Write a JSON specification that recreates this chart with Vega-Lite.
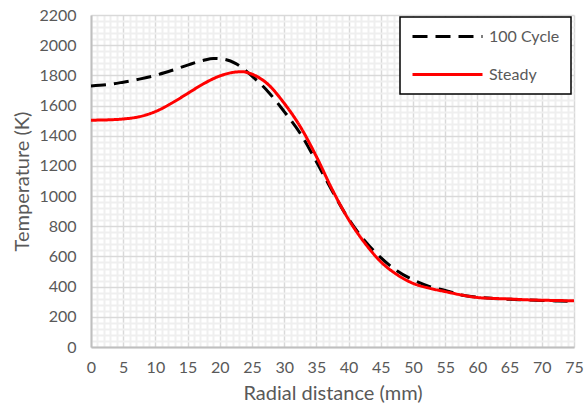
{
  "$schema": "https://vega.github.io/schema/vega-lite/v6.json",
  "width": 483,
  "height": 332,
  "autosize": {"type": "none"},
  "padding": {"left": 91, "top": 15, "right": 13, "bottom": 56},
  "background": "white",
  "config": {"view": {"stroke": null}, "font": "Lato"},
  "data": {
    "values": [
      {"r": 0, "T": 1730, "series": "100 Cycle"},
      {"r": 2.5, "T": 1738, "series": "100 Cycle"},
      {"r": 5, "T": 1755, "series": "100 Cycle"},
      {"r": 7.5, "T": 1775, "series": "100 Cycle"},
      {"r": 10, "T": 1800, "series": "100 Cycle"},
      {"r": 12.5, "T": 1832, "series": "100 Cycle"},
      {"r": 15, "T": 1868, "series": "100 Cycle"},
      {"r": 17.5, "T": 1900, "series": "100 Cycle"},
      {"r": 19, "T": 1912, "series": "100 Cycle"},
      {"r": 20.5, "T": 1908, "series": "100 Cycle"},
      {"r": 22.5, "T": 1878, "series": "100 Cycle"},
      {"r": 25, "T": 1795, "series": "100 Cycle"},
      {"r": 27.5, "T": 1692, "series": "100 Cycle"},
      {"r": 30, "T": 1560, "series": "100 Cycle"},
      {"r": 32.5, "T": 1415, "series": "100 Cycle"},
      {"r": 35, "T": 1228, "series": "100 Cycle"},
      {"r": 37.5, "T": 1030, "series": "100 Cycle"},
      {"r": 40, "T": 848, "series": "100 Cycle"},
      {"r": 42.5, "T": 705, "series": "100 Cycle"},
      {"r": 45, "T": 592, "series": "100 Cycle"},
      {"r": 47.5, "T": 505, "series": "100 Cycle"},
      {"r": 50, "T": 445, "series": "100 Cycle"},
      {"r": 52.5, "T": 402, "series": "100 Cycle"},
      {"r": 55, "T": 375, "series": "100 Cycle"},
      {"r": 57.5, "T": 345, "series": "100 Cycle"},
      {"r": 60, "T": 330, "series": "100 Cycle"},
      {"r": 62.5, "T": 321, "series": "100 Cycle"},
      {"r": 65, "T": 316, "series": "100 Cycle"},
      {"r": 67.5, "T": 312, "series": "100 Cycle"},
      {"r": 70, "T": 308, "series": "100 Cycle"},
      {"r": 72.5, "T": 305, "series": "100 Cycle"},
      {"r": 75, "T": 303, "series": "100 Cycle"},
      {"r": 0, "T": 1503, "series": "Steady"},
      {"r": 2.5, "T": 1505, "series": "Steady"},
      {"r": 5, "T": 1511, "series": "Steady"},
      {"r": 7.5, "T": 1526, "series": "Steady"},
      {"r": 10, "T": 1560, "series": "Steady"},
      {"r": 12.5, "T": 1615, "series": "Steady"},
      {"r": 15, "T": 1680, "series": "Steady"},
      {"r": 17.5, "T": 1745, "series": "Steady"},
      {"r": 20, "T": 1796, "series": "Steady"},
      {"r": 22.5, "T": 1822, "series": "Steady"},
      {"r": 23.5, "T": 1824, "series": "Steady"},
      {"r": 25, "T": 1808, "series": "Steady"},
      {"r": 27.5, "T": 1740, "series": "Steady"},
      {"r": 30, "T": 1615, "series": "Steady"},
      {"r": 32.5, "T": 1460, "series": "Steady"},
      {"r": 35, "T": 1262, "series": "Steady"},
      {"r": 37.5, "T": 1040, "series": "Steady"},
      {"r": 40, "T": 845, "series": "Steady"},
      {"r": 42.5, "T": 690, "series": "Steady"},
      {"r": 45, "T": 565, "series": "Steady"},
      {"r": 47.5, "T": 480, "series": "Steady"},
      {"r": 50, "T": 422, "series": "Steady"},
      {"r": 52.5, "T": 390, "series": "Steady"},
      {"r": 55, "T": 367, "series": "Steady"},
      {"r": 57.5, "T": 345, "series": "Steady"},
      {"r": 60, "T": 328, "series": "Steady"},
      {"r": 62.5, "T": 322, "series": "Steady"},
      {"r": 65, "T": 318, "series": "Steady"},
      {"r": 67.5, "T": 313, "series": "Steady"},
      {"r": 70, "T": 310, "series": "Steady"},
      {"r": 72.5, "T": 308, "series": "Steady"},
      {"r": 75, "T": 306, "series": "Steady"}
    ]
  },
  "mark": {"type": "line", "strokeWidth": 3, "interpolate": "monotone"},
  "encoding": {
    "x": {
      "field": "r",
      "type": "quantitative",
      "scale": {"domain": [0, 75], "nice": false},
      "axis": {
        "title": "Radial distance (mm)",
        "values": [0,1,2,3,4,5,6,7,8,9,10,11,12,13,14,15,16,17,18,19,20,21,22,23,24,25,26,27,28,29,30,31,32,33,34,35,36,37,38,39,40,41,42,43,44,45,46,47,48,49,50,51,52,53,54,55,56,57,58,59,60,61,62,63,64,65,66,67,68,69,70,71,72,73,74,75],
        "labelExpr": "datum.value % 5 === 0 ? datum.label : ''",
        "labelOverlap": false,
        "labelFlush": false,
        "ticks": false,
        "labelPadding": 12,
        "labelFontSize": 16,
        "labelColor": "#595959",
        "titleFontSize": 20,
        "titleFontWeight": "normal",
        "titleColor": "#595959",
        "titlePadding": 8,
        "domainColor": "#bfbfbf",
        "domainWidth": 2,
        "gridColor": {"condition": {"test": "datum.value % 5 === 0", "value": "#d9d9d9"}, "value": "#efefef"},
        "gridWidth": {"condition": {"test": "datum.value % 5 === 0", "value": 1.5}, "value": 2}
      }
    },
    "y": {
      "field": "T",
      "type": "quantitative",
      "scale": {"domain": [0, 2200], "nice": false},
      "axis": {
        "title": "Temperature (K)",
        "values": [0,40,80,120,160,200,240,280,320,360,400,440,480,520,560,600,640,680,720,760,800,840,880,920,960,1000,1040,1080,1120,1160,1200,1240,1280,1320,1360,1400,1440,1480,1520,1560,1600,1640,1680,1720,1760,1800,1840,1880,1920,1960,2000,2040,2080,2120,2160,2200],
        "labelExpr": "datum.value % 200 === 0 ? datum.label : ''",
        "format": "d",
        "labelOverlap": false,
        "labelFlush": false,
        "ticks": false,
        "labelPadding": 15,
        "labelFontSize": 16,
        "labelColor": "#595959",
        "titleFontSize": 20,
        "titleFontWeight": "normal",
        "titleColor": "#595959",
        "titlePadding": 6,
        "domainColor": "#bfbfbf",
        "domainWidth": 2,
        "gridColor": {"condition": {"test": "datum.value % 200 === 0", "value": "#d9d9d9"}, "value": "#efefef"},
        "gridWidth": {"condition": {"test": "datum.value % 200 === 0", "value": 1.5}, "value": 2}
      }
    },
    "color": {
      "field": "series",
      "type": "nominal",
      "scale": {"domain": ["100 Cycle", "Steady"], "range": ["#000000", "#ff0000"]},
      "legend": {
        "title": null,
        "orient": "none",
        "legendX": 309,
        "legendY": 2,
        "fillColor": "white",
        "strokeColor": "black",
        "padding": 11,
        "rowPadding": 21,
        "symbolType": "M-1,0H9",
        "symbolSize": 196,
        "symbolStrokeWidth": 3,
        "labelFontSize": 16,
        "labelColor": "#595959",
        "labelOffset": 61,
        "encode": {
          "legend": {"update": {"strokeWidth": {"value": 1.5}}}
        }
      }
    },
    "strokeDash": {
      "field": "series",
      "type": "nominal",
      "scale": {"domain": ["100 Cycle", "Steady"], "range": [[15, 8], [1, 0]]},
      "legend": null
    }
  }
}
